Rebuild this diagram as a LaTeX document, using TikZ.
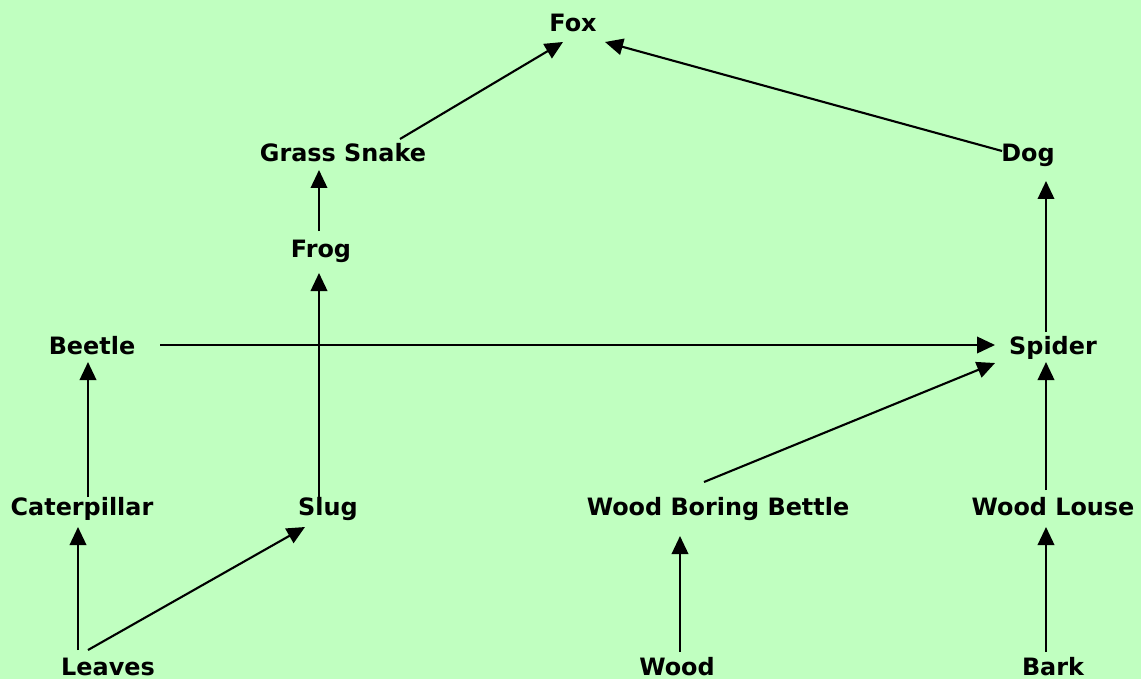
\documentclass[tikz,border=0pt]{standalone}
\usepackage{fontspec}
\setmainfont{DejaVu Sans}
\usepackage{tikz}
\usetikzlibrary{arrows.meta,positioning}
\definecolor{meadowgreen}{RGB}{192,255,192}

\tikzset{
  creature/.style={anchor=base, inner sep=0pt, font=\fontsize{13.6pt}{16pt}\selectfont\bfseries},
  eatenby/.style={line width=1.2pt, -{Triangle[length=0.36cm,width=0.33cm]}}
}

\begin{document}
\begin{tikzpicture}[x=0.02cm, y=-0.02cm]
            \useasboundingbox (0,0) rectangle (1141,679);
            \fill[meadowgreen] (0,0) rectangle (1141,679);

            % who is eaten
            \node[creature] (fox) at (573,32) {Fox};
            \node[creature] (snake) at (343,161) {Grass Snake};
            \node[creature] (dog) at (1028,161) {Dog};
            \node[creature] (frog) at (321,257) {Frog};
            \node[creature] (beetle) at (92,354) {Beetle};
            \node[creature] (spider) at (1053,354) {Spider};
            \node[creature] (caterpillar) at (82,515) {Caterpillar};
            \node[creature] (slug) at (328,515) {Slug};
            \node[creature] (borer) at (718,515) {Wood Boring Bettle};
            \node[creature] (louse) at (1053,515) {Wood Louse};
            \node[creature] (leaves) at (108,675) {Leaves};
            \node[creature] (wood) at (677,675) {Wood};
            \node[creature] (bark) at (1053,675) {Bark};

            % food chains
            \draw[eatenby] ([shift={(57,-22)}]snake.base) -- ([shift={(-10,10)}]fox.base);
            \draw[eatenby] ([shift={(-26,-10)}]dog.base) -- ([shift={(32,10)}]fox.base);
            \draw[eatenby] ([shift={(-2,-26)}]frog.base) -- ([shift={(-24,9)}]snake.base);
            \draw[eatenby] ([shift={(-9,-18)}]slug.base) -- ([shift={(-2,16)}]frog.base);
            \draw[eatenby] ([shift={(68,-9)}]beetle.base) -- ([shift={(-58,-9)}]spider.base);
            \draw[eatenby] ([shift={(6,-18)}]caterpillar.base) -- ([shift={(-4,8)}]beetle.base);
            \draw[eatenby] ([shift={(-14,-33)}]borer.base) -- ([shift={(-58,9)}]spider.base);
            \draw[eatenby] ([shift={(-7,-25)}]louse.base) -- ([shift={(-7,8)}]spider.base);
            \draw[eatenby] ([shift={(-7,-22)}]spider.base) -- ([shift={(18,20)}]dog.base);
            \draw[eatenby] ([shift={(-30,-25)}]leaves.base) -- ([shift={(-4,12)}]caterpillar.base);
            \draw[eatenby] ([shift={(-20,-25)}]leaves.base) -- ([shift={(-23,12)}]slug.base);
            \draw[eatenby] ([shift={(3,-23)}]wood.base) -- ([shift={(-38,21)}]borer.base);
            \draw[eatenby] ([shift={(-7,-23)}]bark.base) -- ([shift={(-7,12)}]louse.base);
        \end{tikzpicture}
\end{document}
